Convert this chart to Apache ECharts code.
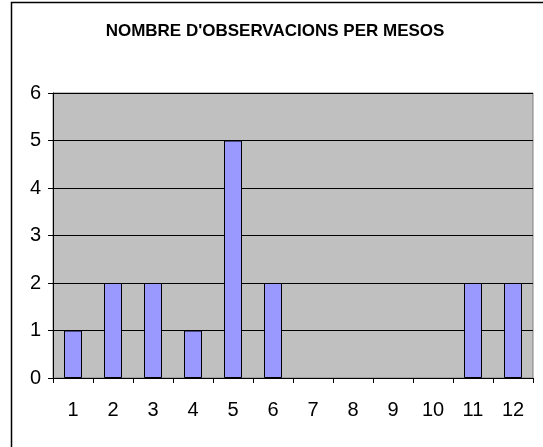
<!DOCTYPE html>
<html>
<head>
<meta charset="utf-8">
<script src="https://cdn.jsdelivr.net/npm/echarts@6/dist/echarts.min.js"></script>
<style>
  html, body { margin: 0; padding: 0; background: #fff; }
  #chart { width: 543px; height: 447px; }
</style>
</head>
<body>
<div id="chart"></div>
<script>
const months = ['1', '2', '3', '4', '5', '6', '7', '8', '9', '10', '11', '12'];
const observations = [1, 2, 2, 1, 5, 2, 0, 0, 0, 0, 2, 2];

let chart = echarts.init(document.getElementById('chart'));

chart.setOption({
    backgroundColor: '#fff',
    animation: false,
    title: {
        text: "NOMBRE D'OBSERVACIONS PER MESOS",
        left: 270,
        top: 18,
        textAlign: 'center',
        textStyle: {
            fontFamily: 'Arial, "Liberation Sans", sans-serif',
            fontWeight: 'bold',
            fontSize: 17,
            color: '#000'
        }
    },
    graphic: [{
        type: 'polyline',
        shape: { points: [[11.5, 447], [11.5, 2.5], [543, 2.5]] },
        style: { stroke: '#000', lineWidth: 1.5, fill: null },
        silent: true
    }],
    grid: {
        left: 53,
        top: 93,
        right: 10,
        bottom: 69,
        show: true,
        backgroundColor: '#c0c0c0',
        borderColor: '#808080',
        borderWidth: 1
    },
    xAxis: {
        type: 'category',
        data: months,
        axisLine: { lineStyle: { color: '#000', width: 1 } },
        axisTick: { show: true, length: 5, inside: false, lineStyle: { color: '#000' } },
        axisLabel: {
            margin: 22,
            fontFamily: 'Arial, "Liberation Sans", sans-serif',
            fontSize: 20,
            color: '#000'
        }
    },
    yAxis: {
        type: 'value',
        min: 0,
        max: 6,
        interval: 1,
        axisLine: { show: true, lineStyle: { color: '#000', width: 1 } },
        axisTick: { show: true, length: 5, lineStyle: { color: '#000' } },
        axisLabel: {
            margin: 12,
            fontFamily: 'Arial, "Liberation Sans", sans-serif',
            fontSize: 20,
            color: '#000'
        },
        splitLine: { show: true, lineStyle: { color: '#000', width: 1 } }
    },
    series: [{
        type: 'bar',
        // zero months have no visible bar
        data: observations.map(v => (v === 0 ? null : v)),
        barWidth: '45%',
        itemStyle: {
            color: '#9999ff',
            borderColor: '#000',
            borderWidth: 1
        }
    }]
});
</script>
</body>
</html>
